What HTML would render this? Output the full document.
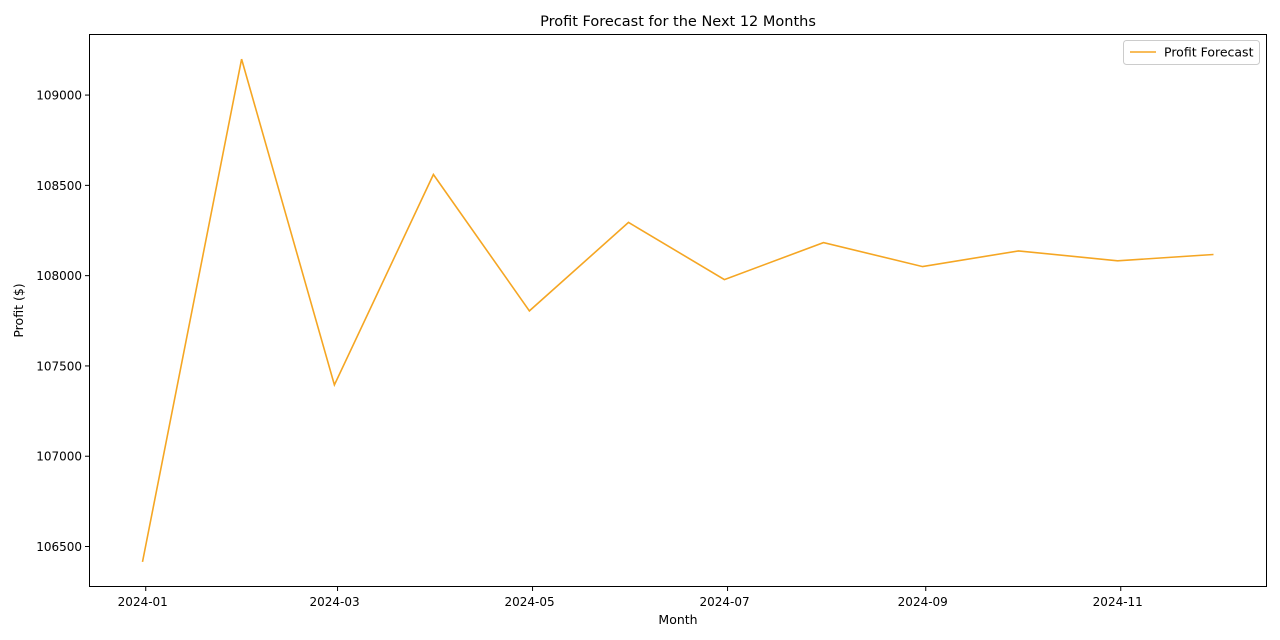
<!DOCTYPE html>
<html><head><meta charset="utf-8"><style>
body{margin:0;background:#fff;}
svg{display:block;font-family:"DejaVu Sans","Liberation Sans",sans-serif;}
</style></head><body>
<svg id="chart" width="1280" height="640"></svg>
<script>
const dates = ["2023-12-31","2024-01-31","2024-02-29","2024-03-31","2024-04-30","2024-05-31","2024-06-30","2024-07-31","2024-08-31","2024-09-30","2024-10-31","2024-11-30"];
const profits = [106415,109199,107395,108560,107805,108295,107978,108183,108050,108137,108082,108117];
const yTicks = [106500,107000,107500,108000,108500,109000];
const xTicks = ["2024-01-01","2024-03-01","2024-05-01","2024-07-01","2024-09-01","2024-11-01"];
const xTickLabels = ["2024-01","2024-03","2024-05","2024-07","2024-09","2024-11"];

const NS="http://www.w3.org/2000/svg";
const svg=document.getElementById('chart');
const L=89,R=1267,T=34,B=587;
const day=s=>Date.parse(s+"T00:00:00Z")/86400000;
const d0=day(dates[0]),d1=day(dates[dates.length-1]);
const xs=(d1-d0)*0.05, xmin=d0-xs, xmax=d1+xs;
const ymn=Math.min(...profits), ymx=Math.max(...profits), ys=(ymx-ymn)*0.05;
const ymin=ymn-ys, ymax=ymx+ys;
const X=s=>L+(day(s)-xmin)/(xmax-xmin)*(R-L);
const Y=v=>B-(v-ymin)/(ymax-ymin)*(B-T);
function el(tag,attrs,text){const e=document.createElementNS(NS,tag);for(const k in attrs)e.setAttribute(k,attrs[k]);if(text!==undefined)e.textContent=text;svg.appendChild(e);return e;}

let e=el('text',{x:(L+R)/2,y:26,'text-anchor':'middle','font-size':14.5,fill:'#000'},'Profit Forecast for the Next 12 Months');



yTicks.forEach(v=>{
  const y=Y(v);
  let t=el('line',{x1:L-4,x2:L,y1:y,y2:y,stroke:'#000','stroke-width':1});
  
  
  let lb=el('text',{x:L-7,y:y+4.5,'text-anchor':'end','font-size':12,fill:'#000'},String(v));
  
  
});
xTicks.forEach((s,i)=>{
  const x=X(s);
  let t=el('line',{x1:x,x2:x,y1:B,y2:B+4,stroke:'#000','stroke-width':1});
  
  
  let lb=el('text',{x:x-3,y:B+19,'text-anchor':'middle','font-size':12,fill:'#000'},xTickLabels[i]);
  
  
});

const pts=dates.map((d,i)=>X(d).toFixed(1)+","+Y(profits[i]).toFixed(1)).join(" ");
e=el('polyline',{points:pts,fill:'none',stroke:'#f5a623','stroke-width':1.6});



e=el('rect',{x:L+0.5,y:T+0.5,width:R-L-1,height:B-T-1,fill:'none',stroke:'#000','stroke-width':1});



e=el('text',{x:(L+R)/2,y:624,'text-anchor':'middle','font-size':12.5,fill:'#000'},'Month');


e=el('text',{x:0,y:0,'text-anchor':'middle','font-size':12.5,fill:'#000',transform:`translate(23,${(T+B)/2}) rotate(-90)`},'Profit ($)');



e=el('rect',{x:1123.5,y:40.5,width:136,height:24,rx:3,fill:'#fff',stroke:'#ccc','stroke-width':1});


e=el('line',{x1:1130,x2:1156,y1:52,y2:52,stroke:'#f5a623','stroke-width':1.6});


e=el('text',{x:1164,y:56.5,'font-size':12.5,fill:'#000'},'Profit Forecast');


</script>
</body></html>
